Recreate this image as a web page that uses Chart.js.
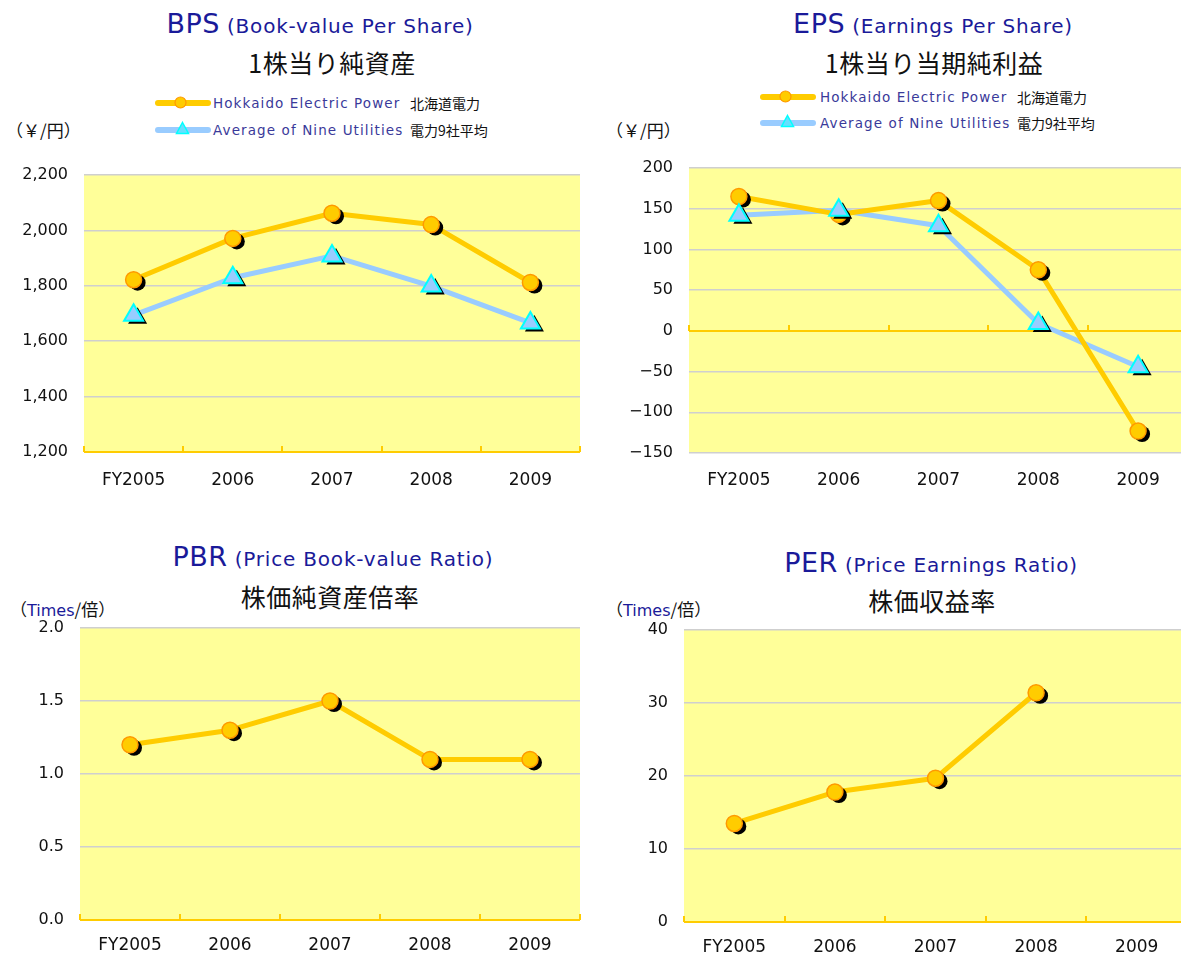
<!DOCTYPE html>
<html>
<head>
<meta charset="utf-8">
<script src="https://cdn.jsdelivr.net/npm/chart.js@4.4.1/dist/chart.umd.min.js"></script>
<style>
  html, body { margin: 0; padding: 0; background: #ffffff; }
  body { width: 1181px; height: 953px; position: relative; overflow: hidden;
         font-family: 'DejaVu Sans', 'Noto Sans CJK JP', sans-serif; }
  .abs { position: absolute; white-space: nowrap; }
  .t1 { color: #1a1a99; font-size: 20px; text-align: center; line-height: 30px; letter-spacing: 0.8px; }
  .t1 b { font-weight: normal; font-size: 27px; letter-spacing: 0.5px; }
  .t2 { color: #111; font-size: 25px; text-align: center; line-height: 30px; letter-spacing: 0.5px;
        font-family: 'Noto Sans CJK JP', sans-serif; }
  .unit { color: #111; font-size: 17px; line-height: 20px; font-family: 'Noto Sans CJK JP', sans-serif; }
  .unit .blue { color: #1a1a99; font-family: 'DejaVu Sans', sans-serif; font-size: 16px; }
  .leg { font-size: 13.5px; color: #3a3a9a; line-height: 18px; letter-spacing: 1.1px; }
  .legj { font-size: 14px; color: #111; line-height: 18px; font-family: 'Noto Sans CJK JP', sans-serif; }
  .lline { position: absolute; height: 6px; border-radius: 3px; }
  canvas { position: absolute; }
</style>
</head>
<body>
<!-- BPS titles -->
<div class="abs t1" style="left:20px; top:9px; width:600px;"><b>BPS</b> (Book-value Per Share)</div>
<div class="abs t2" style="left:32px; top:47px; width:600px;">1株当り純資産</div>
<!-- BPS legend -->
<div class="lline" style="left:155px; top:100px; width:56px; background:#FFCC00;"></div>
<svg class="abs" style="left:174px; top:96px;" width="13" height="13"><circle cx="6.5" cy="6.5" r="5.5" fill="#FFCC00" stroke="#FF9900" stroke-width="1.2"/></svg>
<div class="abs leg" style="left:213px; top:94px;">Hokkaido Electric Power</div>
<div class="abs legj" style="left:410px; top:94px;">北海道電力</div>
<div class="lline" style="left:155px; top:127px; width:56px; background:#99CCFF;"></div>
<svg class="abs" style="left:175px; top:121px;" width="15" height="14"><polygon points="7.5,1.5 13.5,12.5 1.5,12.5" fill="#66E0FF" stroke="#00FFFF" stroke-width="1.5"/></svg>
<div class="abs leg" style="left:213px; top:121px;">Average of Nine Utilities</div>
<div class="abs legj" style="left:410px; top:121px;">電力9社平均</div>
<div class="abs unit" style="left:6px; top:120px;">（￥/円）</div>

<!-- EPS titles -->
<div class="abs t1" style="left:633px; top:9px; width:600px;"><b>EPS</b> (Earnings Per Share)</div>
<div class="abs t2" style="left:634px; top:47px; width:600px;">1株当り当期純利益</div>
<!-- EPS legend -->
<div class="lline" style="left:760px; top:94px; width:56px; background:#FFCC00;"></div>
<svg class="abs" style="left:779px; top:90px;" width="13" height="13"><circle cx="6.5" cy="6.5" r="5.5" fill="#FFCC00" stroke="#FF9900" stroke-width="1.2"/></svg>
<div class="abs leg" style="left:820px; top:88px;">Hokkaido Electric Power</div>
<div class="abs legj" style="left:1017px; top:88px;">北海道電力</div>
<div class="lline" style="left:760px; top:120px; width:56px; background:#99CCFF;"></div>
<svg class="abs" style="left:780px; top:114px;" width="15" height="14"><polygon points="7.5,1.5 13.5,12.5 1.5,12.5" fill="#66E0FF" stroke="#00FFFF" stroke-width="1.5"/></svg>
<div class="abs leg" style="left:820px; top:114px;">Average of Nine Utilities</div>
<div class="abs legj" style="left:1017px; top:114px;">電力9社平均</div>
<div class="abs unit" style="left:606px; top:120px;">（￥/円）</div>

<!-- PBR titles -->
<div class="abs t1" style="left:33px; top:542px; width:600px;"><b>PBR</b> (Price Book-value Ratio)</div>
<div class="abs t2" style="left:30px; top:581px; width:600px;">株価純資産倍率</div>
<div class="abs unit" style="left:10px; top:599px;">（<span class="blue">Times</span>/倍）</div>

<!-- PER titles -->
<div class="abs t1" style="left:631px; top:548px; width:600px;"><b>PER</b> (Price Earnings Ratio)</div>
<div class="abs t2" style="left:632px; top:585px; width:600px;">株価収益率</div>
<div class="abs unit" style="left:606px; top:599px;">（<span class="blue">Times</span>/倍）</div>

<canvas id="bps" width="590" height="337" style="left:0px; top:160px;"></canvas>
<canvas id="eps" width="598" height="345" style="left:590px; top:153px;"></canvas>
<canvas id="pbr" width="590" height="352" style="left:0px; top:613px;"></canvas>
<canvas id="per" width="597" height="352" style="left:590px; top:615px;"></canvas>

<script>
// ---- data ----
const categories = ['FY2005', '2006', '2007', '2008', '2009'];
const bpsHokkaido = [1822, 1971, 2062, 2021, 1812];
const bpsAverage  = [1694, 1829, 1908, 1799, 1666];
const epsHokkaido = [165, 143, 160, 75, -123];
const epsAverage  = [142, 148, 129, 9, -44];
const pbrHokkaido = [1.2, 1.3, 1.5, 1.1, 1.1];
const perHokkaido = [13.5, 17.8, 19.7, 31.4, null];
const bpsRange = [1200, 2200, 200];
const epsRange = [-150, 200, 50];
const pbrRange = [0, 2, 0.5];
const perRange = [0, 40, 10];

const GOLD = '#FFCC00', BLUE = '#99CCFF';
const FONT = "'DejaVu Sans', 'Noto Sans CJK JP', sans-serif";

const decor = {
  id: 'decor',
  beforeDraw(chart) {
    const { ctx, chartArea: a } = chart;
    ctx.save();
    ctx.fillStyle = '#FFFF99';
    ctx.fillRect(a.left, a.top, a.right - a.left, a.bottom - a.top);
    ctx.restore();
  },
  beforeDatasetsDraw(chart, args, opts) {
    const { ctx, chartArea: a } = chart;
    const y = Math.round(chart.scales.y.getPixelForValue(opts.base));
    const xs = chart.scales.x;
    ctx.save();
    ctx.strokeStyle = GOLD;
    ctx.lineWidth = 2;
    ctx.beginPath();
    ctx.moveTo(a.left, y); ctx.lineTo(a.right, y);
    for (let i = 0; i <= categories.length; i++) {
      const x = Math.round(xs.getPixelForValue(i - 0.5));
      ctx.moveTo(x, y); ctx.lineTo(x, y - 6);
    }
    ctx.stroke();
    ctx.restore();
  },
  beforeDatasetDraw(chart, args) {
    const ds = chart.data.datasets[args.index];
    if (!ds.shadowShape) return;
    const ctx = chart.ctx;
    ctx.save();
    ctx.fillStyle = '#000';
    args.meta.data.forEach(pt => {
      if (pt.skip) return;
      const x = pt.x + 4, y = pt.y + 3;
      const r = ds.pointRadius;
      ctx.beginPath();
      if (ds.shadowShape === 'circle') {
        ctx.arc(x, y, r, 0, Math.PI * 2);
      } else {
        ctx.moveTo(x, y - r);
        ctx.lineTo(x + Math.sin(2 * Math.PI / 3) * r, y + r / 2);
        ctx.lineTo(x - Math.sin(2 * Math.PI / 3) * r, y + r / 2);
        ctx.closePath();
      }
      ctx.fill();
    });
    ctx.restore();
  }
};

function lineSet(data, color, order) {
  return { data, borderColor: color, borderWidth: 5, pointRadius: 0, tension: 0,
           fill: false, order, spanGaps: false, borderCapStyle: 'round', borderJoinStyle: 'round' };
}
function circleSet(data, order) {
  return { data, showLine: false, pointStyle: 'circle', pointRadius: 8,
           pointBackgroundColor: GOLD, pointBorderColor: '#FF9900', pointBorderWidth: 1.5,
           order, shadowShape: 'circle' };
}
function triSet(data, order) {
  return { data, showLine: false, pointStyle: 'triangle', pointRadius: 11,
           pointBackgroundColor: BLUE, pointBorderColor: '#00FFFF', pointBorderWidth: 2,
           order, shadowShape: 'triangle' };
}

function makeChart(id, datasets, range, base, yWidth, padRight, xPad, fmt) {
  new Chart(document.getElementById(id), {
    type: 'line',
    data: { labels: categories, datasets },
    options: {
      responsive: false, animation: false, events: [], devicePixelRatio: 1,
      layout: { autoPadding: false, padding: { top: 15, right: padRight, left: 0, bottom: 0 } },
      plugins: { legend: { display: false }, tooltip: { enabled: false }, title: { display: false },
                 decor: { base } },
      scales: {
        x: {
          offset: true,
          grid: { display: false, drawTicks: false },
          border: { display: false },
          ticks: { color: '#111', font: { family: FONT, size: 17 }, padding: xPad, maxRotation: 0 },
          afterFit(s) { s.height = 45; s.paddingLeft = 0; s.paddingRight = 0; }
        },
        y: {
          min: range[0], max: range[1],
          grid: { color: '#CFCFCF', lineWidth: 1.5, drawTicks: false },
          border: { display: false },
          ticks: { stepSize: range[2], color: '#111', font: { family: FONT, size: 16 }, padding: 16,
                   callback: fmt },
          afterFit(s) { s.width = yWidth; s.paddingTop = 0; s.paddingBottom = 0; }
        }
      }
    },
    plugins: [decor]
  });
}

const commaFmt = v => v.toLocaleString('en-US');
const minusFmt = v => (v < 0 ? '\u2212' + Math.abs(v) : String(v));
const oneDec = v => v.toFixed(1);
const intFmt = v => String(v);

makeChart('bps', [lineSet(bpsAverage, BLUE, 4), lineSet(bpsHokkaido, GOLD, 3),
                  circleSet(bpsHokkaido, 2), triSet(bpsAverage, 1)],
          bpsRange, 1200, 84, 10, 18, commaFmt);
makeChart('eps', [lineSet(epsAverage, BLUE, 4), lineSet(epsHokkaido, GOLD, 3),
                  circleSet(epsHokkaido, 2), triSet(epsAverage, 1)],
          epsRange, 0, 99, 0, 17, minusFmt);
makeChart('pbr', [lineSet(pbrHokkaido, GOLD, 3), circleSet(pbrHokkaido, 2)],
          pbrRange, 0, 80, 10, 15, oneDec);
makeChart('per', [lineSet(perHokkaido, GOLD, 3), circleSet(perHokkaido, 2)],
          perRange, 0, 94, 0, 15, intFmt);
</script>
</body>
</html>
